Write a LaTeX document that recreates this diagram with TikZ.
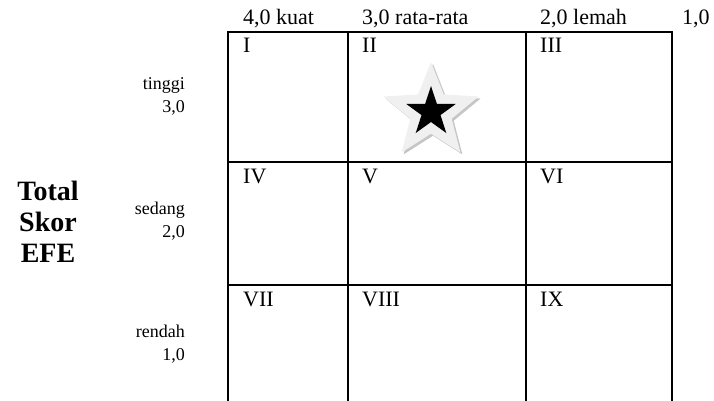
\documentclass[tikz,border=0pt]{standalone}
\usepackage{fontspec}
\setmainfont{Liberation Serif}
\usetikzlibrary{shapes.geometric, positioning}

\begin{document}
\begin{tikzpicture}[x=1pt, y=1pt, font=\fontsize{22}{26}\selectfont,
    gridline/.style={line width=1.6pt, black},
    cellnum/.style={anchor=north west, inner sep=0pt,
        font=\fontsize{22}{26}\selectfont},
    scorelab/.style={anchor=base west, inner sep=0pt},
    levellab/.style={anchor=east, align=right, inner sep=0pt,
        font=\fontsize{18}{23}\selectfont},
    starshape/.style={star, star points=5, inner sep=0pt, draw=none}]
    \useasboundingbox (0,0) rectangle (714,401);
    % grid, open at the bottom
    \draw[gridline] (228,0) -- (228,369) -- (672,369) -- (672,0);
    \draw[gridline] (348,0) -- (348,369);
    \draw[gridline] (526,0) -- (526,369);
    \draw[gridline] (228,239) -- (672,239);
    \draw[gridline] (228,116) -- (672,116);
    % cell numbers
    \foreach \lab/\x/\y in {I/243/363, II/362/363, III/540/363,
                            IV/243/232, V/362/232, VI/540/232,
                            VII/243/109, VIII/362/109, IX/540/109}
        \node[cellnum] (c\lab) at (\x,\y) {\lab};
    % IFE scores on top
    \node[scorelab] (kuat) at (243,376) {4,0 kuat};
    \node[scorelab] (rata) at (362,376) {3,0 rata-rata};
    \node[scorelab] (lemah) at (540,376) {2,0 lemah};
    \node[scorelab] (nol) at (682,376) {1,0};
    % EFE levels on the left
    \node[levellab] (tinggi) at (185,305) {tinggi\\3,0};
    \node[levellab] (sedang) at (185,180) {sedang\\2,0};
    \node[levellab] (rendah) at (185,57) {rendah\\1,0};
    \node[align=center, font=\fontsize{28}{31}\selectfont\bfseries] (efe) at (48,179) {Total\\Skor\\EFE};
    % position of the firm
    \node[starshape, star point ratio=2.3, minimum size=100pt, fill=gray!45] (shadow) at (433,287) {};
    \node[starshape, star point ratio=2.3, minimum size=100pt, fill=gray!12] (halo) at (431,289) {};
    \node[starshape, star point ratio=2.6, minimum size=52pt, fill=black] (pos) at (431,289) {};
\end{tikzpicture}
\end{document}
